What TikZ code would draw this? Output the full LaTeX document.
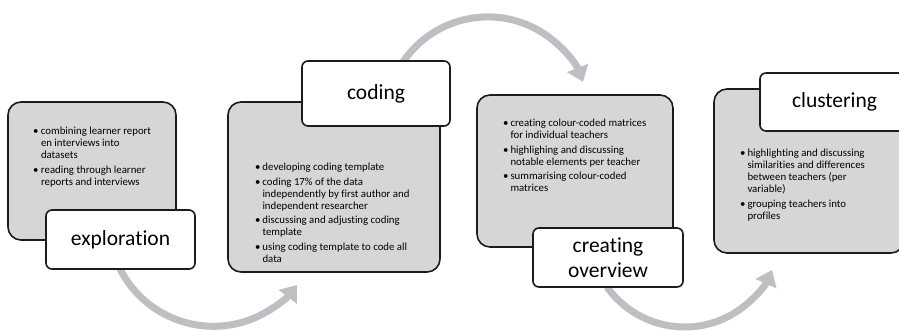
\documentclass[tikz,border=0pt]{standalone}
\usepackage{fontspec}
\setmainfont{Carlito}[Ligatures=NoCommon]
\usetikzlibrary{arrows.meta,calc}
\definecolor{boxgray}{RGB}{213,214,216}
\definecolor{arrowgray}{RGB}{190,191,194}
\definecolor{edgecol}{RGB}{28,28,28}
\newcommand\bul{\textbullet}
\tikzset{
  panel/.style={draw=edgecol, line width=1.6pt, fill=boxgray, rounded corners=13pt,
    anchor=north west, inner sep=0pt, outer sep=0pt},
  tag/.style={draw=edgecol, line width=1.6pt, fill=white, rounded corners=6pt,
    anchor=north west, inner sep=0pt, outer sep=0pt, align=center,
    font=\fontsize{21.5}{25}\selectfont},
  bullets/.style={anchor=base west, inner sep=0pt, outer sep=0pt,
    font=\fontsize{10.8}{12}\selectfont},
  flow/.style={draw=arrowgray, line width=7pt,
    -{Triangle[length=15pt,width=22pt]}}
}
\begin{document}
\begin{tikzpicture}[x=1pt,y=-1pt]
\useasboundingbox (0,0) rectangle (899,331);
% arc start coordinates
\coordinate (a1s) at (120,269);
\coordinate (a2s) at (403,62);
\coordinate (a3s) at (607,287);
% arrows (behind the boxes)
\draw[flow] (a1s) arc[start angle=153, end angle=37.3, radius=104.9];
\draw[flow] (a2s) arc[start angle=-146, end angle=-21.4, radius=102.3];
\draw[flow] (a3s) arc[start angle=144.5, end angle=23.7, radius=95.4];
% panels
\node[panel, minimum width=168pt, minimum height=138pt] (p1) at (8,102) {};
\node[panel, minimum width=212pt, minimum height=170pt] (p2) at (228,102) {};
\node[panel, minimum width=196pt, minimum height=152pt] (p3) at (477,95) {};
\node[panel, minimum width=190pt, minimum height=164pt] (p4) at (714,89) {};
% bullet texts
\node[bullets] (t1) at (33,135) {\begin{tabular}[t]{@{}p{8pt}@{}l@{}}
\bul & combining learner report\\
 & en interviews into\\
 & datasets\\[2.5pt]
\bul & reading through learner\\
 & reports and interviews
\end{tabular}};
\node[bullets] (t2) at (255,171) {\begin{tabular}[t]{@{}p{7.5pt}@{}l@{}}
\bul & developing coding template\\[2.5pt]
\bul & coding 17\% of the data\\
 & independently by first author and\\
 & independent researcher\\[2.5pt]
\bul & discussing and adjusting coding\\
 & template\\[2.5pt]
\bul & using coding template to code all\\
 & data
\end{tabular}};
\node[bullets] (t3) at (503,127) {\begin{tabular}[t]{@{}p{7.5pt}@{}l@{}}
\bul & creating colour-coded matrices\\
 & for individual teachers\\[2.5pt]
\bul & highlighing and discussing\\
 & notable elements per teacher\\[2.5pt]
\bul & summarising colour-coded\\
 & matrices
\end{tabular}};
\node[bullets] (t4) at (740,157) {\begin{tabular}[t]{@{}p{7.5pt}@{}l@{}}
\bul & highlighting and discussing\\
 & similarities and differences\\
 & between teachers (per\\
 & variable)\\[2.5pt]
\bul & grouping teachers into\\
 & profiles
\end{tabular}};
% tags
\node[tag, minimum width=149pt, minimum height=59pt] (l1) at (46,210) {exploration};
\node[tag, minimum width=148pt, minimum height=65pt] (l2) at (302,61) {coding};
\node[tag, minimum width=150pt, minimum height=59pt] (l3) at (533,228) {creating\\overview};
\node[tag, minimum width=149pt, minimum height=58pt] (l4) at (760,73) {clustering};
\end{tikzpicture}
\end{document}
